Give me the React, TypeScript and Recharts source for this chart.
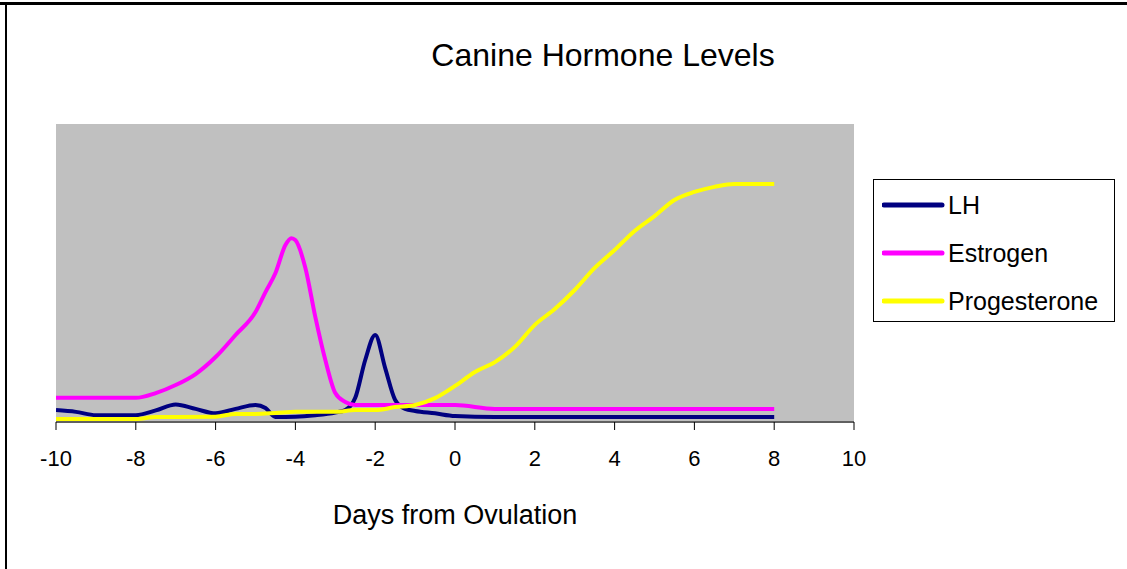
import { LineChart, Line, XAxis, YAxis, CartesianGrid, Legend } from "recharts";

// values (relative units, no y scale shown)
const lhDays = [-10, -9.5, -9, -8.5, -8, -7.5, -7, -6.5, -6, -5.5, -5, -4.75, -4.5, -4, -3.5, -3, -2.75, -2.5, -2.25, -2, -1.75, -1.5, -1.25, -1, -0.5, 0, 1, 2, 4, 6, 8];
const lhValues = [4.0, 3.4, 2.3, 2.3, 2.3, 3.9, 5.9, 4.4, 2.9, 4.4, 5.7, 4.7, 1.7, 1.8, 2.3, 3.2, 4.0, 8.1, 20.8, 29.2, 18.1, 7.4, 4.4, 3.7, 2.9, 2.0, 1.7, 1.7, 1.7, 1.7, 1.7];

const estrogenDays = [-10, -9, -8, -7.5, -7, -6.5, -6, -5.5, -5, -4.75, -4.5, -4.25, -4.1, -4, -3.75, -3.5, -3.25, -3, -2.75, -2.5, -2, -1, 0, 1, 2, 4, 6, 8];
const estrogenValues = [8.1, 8.1, 8.1, 9.7, 12.4, 16.1, 21.8, 29.2, 36.9, 43.6, 50.0, 59.4, 61.7, 61.0, 51.7, 35.2, 20.8, 9.7, 6.7, 5.7, 5.7, 5.7, 5.7, 4.4, 4.4, 4.4, 4.4, 4.4];

const progDays = [-10, -9, -8, -7.5, -7, -6, -5.5, -5, -4.5, -4, -3, -2.5, -2, -1.5, -1, -0.5, 0, 0.5, 1, 1.5, 2, 2.5, 3, 3.5, 4, 4.5, 5, 5.5, 6, 6.5, 7, 7.5, 8];
const progValues = [1.0, 1.0, 1.0, 1.7, 1.7, 1.8, 2.7, 2.7, 3.0, 3.4, 3.4, 4.0, 4.0, 5.0, 5.7, 8.0, 12.1, 16.8, 20.1, 25.2, 32.6, 37.9, 44.3, 51.7, 57.7, 64.1, 69.1, 74.5, 77.2, 78.9, 79.9, 79.9, 79.9];

const xTicks = [-10, -8, -6, -4, -2, 0, 2, 4, 6, 8, 10];

const series = [
  { name: "LH", color: "#000080", days: lhDays, values: lhValues },
  { name: "Estrogen", color: "#ff00ff", days: estrogenDays, values: estrogenValues },
  { name: "Progesterone", color: "#ffff00", days: progDays, values: progValues },
];

const FONT = '"Liberation Sans", Arial, sans-serif';

const LegendBox = () => (
  <div
    style={{
      width: 242,
      height: 143,
      border: "1px solid #000",
      background: "#fff",
      boxSizing: "border-box",
      paddingTop: 1,
      fontFamily: FONT,
      fontSize: 25,
    }}
  >
    {series.map((s) => (
      <div key={s.name} style={{ display: "flex", alignItems: "center", height: 48 }}>
        <svg width={76} height={10} style={{ marginLeft: 8 }}>
          <line x1={2} y1={5} x2={60} y2={5} stroke={s.color} strokeWidth={5} strokeLinecap="round" />
        </svg>
        <span style={{ marginLeft: -10 }}>{s.name}</span>
      </div>
    ))}
  </div>
);

export default function App() {
  return (
    <div style={{ position: "fixed", left: 0, top: 0, width: 1127, height: 569, background: "#fff", overflow: "hidden" }}>
      <div style={{ position: "absolute", left: 0, top: 2, width: 1127, height: 3, background: "#000" }} />
      <div style={{ position: "absolute", left: 5, top: 2, width: 2, height: 567, background: "#000" }} />
      <div
        style={{
          position: "absolute",
          left: 403,
          width: 400,
          top: 37,
          textAlign: "center",
          fontFamily: FONT,
          fontSize: 32,
        }}
      >
        Canine Hormone Levels
      </div>
      <div
        style={{
          position: "absolute",
          left: 255,
          width: 400,
          top: 500,
          textAlign: "center",
          fontFamily: FONT,
          fontSize: 27,
        }}
      >
        Days from Ovulation
      </div>
      <LineChart
        width={1127}
        height={569}
        margin={{ top: 124, right: 273, bottom: 107, left: 56 }}
        style={{ position: "absolute", left: 0, top: 0 }}
      >
        <CartesianGrid fill="#c0c0c0" horizontal={false} vertical={false} />
        <XAxis
          type="number"
          dataKey="day"
          domain={[-10, 10]}
          ticks={xTicks}
          height={40}
          allowDataOverflow
          axisLine={{ stroke: "#606060", strokeWidth: 2 }}
          tickLine={{ stroke: "#000" }}
          tickSize={8}
          tickMargin={20}
          tick={{ fill: "#000", fontSize: 22, fontFamily: FONT }}
        />
        <YAxis hide domain={[0, 100]} />
        <Legend
          layout="vertical"
          align="center"
          verticalAlign="middle"
          wrapperStyle={{ left: 873, top: 179, width: 242 }}
          content={() => <LegendBox />}
        />
        {series.map((s) => (
          <Line
            key={s.name}
            name={s.name}
            data={s.days.map((d, i) => ({ day: d, value: s.values[i] }))}
            dataKey="value"
            type="monotone"
            stroke={s.color}
            strokeWidth={4}
            dot={false}
            activeDot={false}
            isAnimationActive={false}
          />
        ))}
      </LineChart>
    </div>
  );
}
